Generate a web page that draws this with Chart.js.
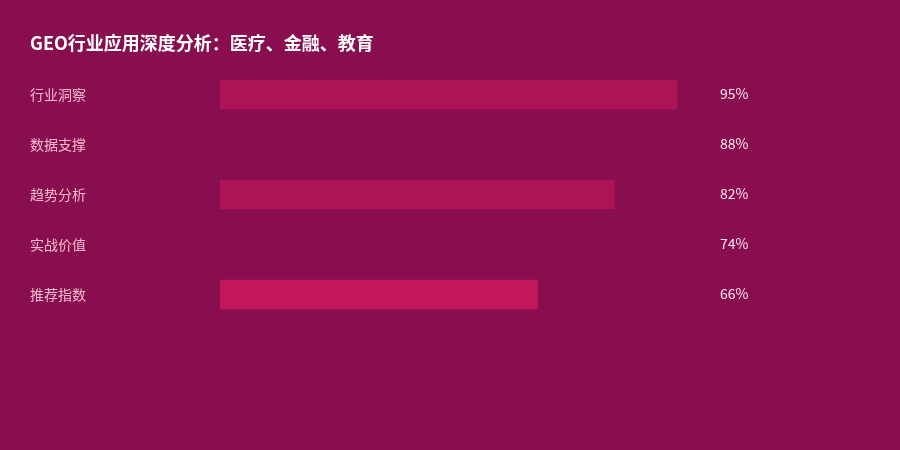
<!DOCTYPE html>
<html>
<head>
<meta charset="utf-8">
<script src="https://cdn.jsdelivr.net/npm/chart.js@4/dist/chart.umd.min.js"></script>
<style>
html,body{margin:0;padding:0;background:#880E4F;}
#wrap{width:900px;height:450px;}
</style>
</head>
<body>
<div id="wrap"><canvas id="c" width="900" height="450"></canvas></div>
<script>
const titleText = 'GEO行业应用深度分析：医疗、金融、教育';
const categories = ['行业洞察', '数据支撑', '趋势分析', '实战价值', '推荐指数'];
const values = [95, 88, 82, 74, 66];
const barColors = ['#AD1457', '#880E4F', '#AD1457', '#880E4F', '#C2185B'];

const FONT = '"Noto Sans CJK SC", "Noto Sans", sans-serif';

const bgPlugin = {
  id: 'bg',
  beforeDraw(chart) {
    const ctx = chart.ctx;
    ctx.save();
    ctx.fillStyle = '#880E4F';
    ctx.fillRect(0, 0, chart.width, chart.height);
    ctx.restore();
  }
};

const valuePlugin = {
  id: 'vals',
  afterDatasetsDraw(chart) {
    const ctx = chart.ctx;
    const meta = chart.getDatasetMeta(0);
    ctx.save();
    ctx.fillStyle = '#FCE4EC';
    ctx.font = '14px ' + FONT;
    ctx.textAlign = 'left';
    ctx.textBaseline = 'middle';
    meta.data.forEach((bar, i) => {
      ctx.fillText(values[i] + '%', chart.chartArea.right + 19, bar.y - 1);
    });
    ctx.restore();
  }
};

new Chart(document.getElementById('c'), {
  type: 'bar',
  data: {
    labels: categories,
    datasets: [{
      data: values,
      backgroundColor: barColors,
      borderWidth: 0,
      barThickness: 29
    }]
  },
  options: {
    indexAxis: 'y',
    responsive: false,
    animation: false,
    devicePixelRatio: 1,
    layout: { padding: { left: 30, right: 199, top: 0, bottom: 130.5 } },
    plugins: {
      legend: { display: false },
      tooltip: { enabled: false },
      title: {
        display: true,
        text: titleText,
        align: 'start',
        color: '#FFFFFF',
        font: { family: FONT, size: 18, weight: 'bold', lineHeight: 1.2 },
        padding: { top: 32.5, bottom: 15.4 }
      }
    },
    scales: {
      x: {
        display: false,
        min: 0,
        max: 100
      },
      y: {
        grid: { display: false },
        border: { display: false },
        ticks: {
          crossAlign: 'far',
          color: '#F8BBD0',
          padding: 0,
          font: { family: FONT, size: 14 }
        },
        afterFit(scale) { scale.width = 190; }
      }
    }
  },
  plugins: [bgPlugin, valuePlugin]
});
</script>
</body>
</html>
